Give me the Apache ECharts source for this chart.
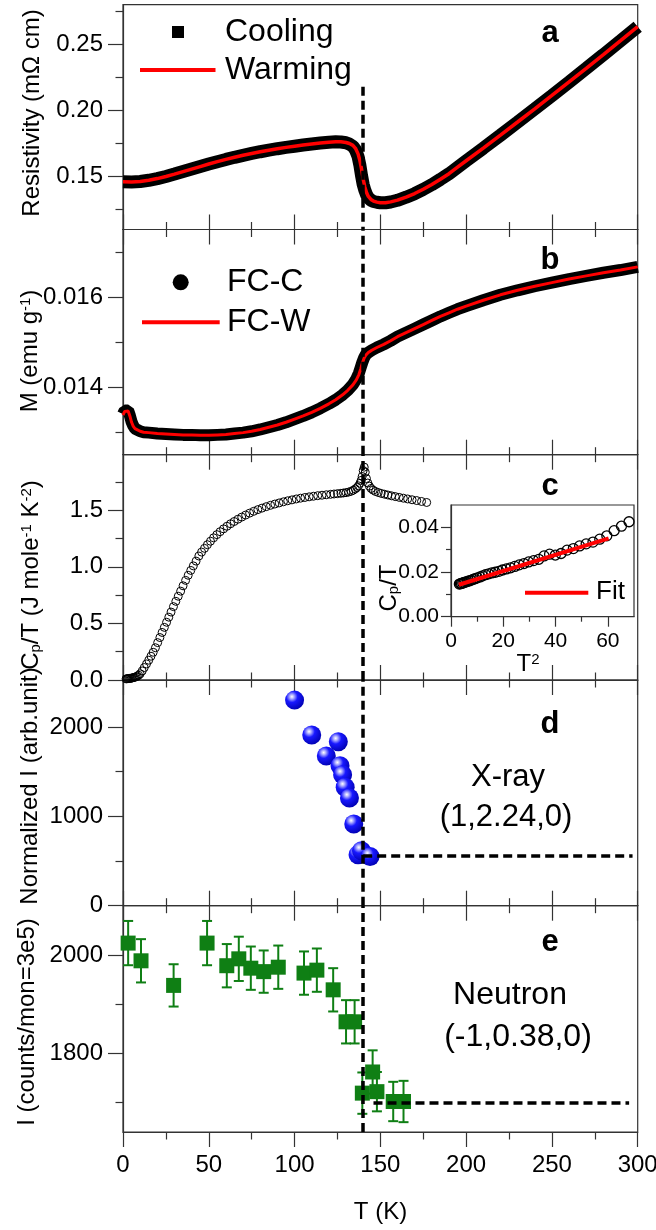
<!DOCTYPE html>
<html>
<head>
<meta charset="utf-8">
<script src="https://cdn.jsdelivr.net/npm/echarts@6/dist/echarts.min.js"></script>
<style>
  html, body { margin: 0; padding: 0; background: #fff; }
  #chart { width: 656px; height: 1230px; }
</style>
</head>
<body>
<div id="chart"></div>
<script>
// ---------------- data ----------------
// shared temperature axis (K)
const tempRange = [0, 300];
const TC = 140;                 // transition temperature, dashed guide
const TC_GUIDE_TOP = 0.218;     // where the guide starts in panel a (mOhm cm)
const XRAY_BACKGROUND = 560;    // high-T level, panel d
const NEUTRON_BACKGROUND = 1700;// high-T level, panel e

// (a) resistivity, mOhm cm
const rhoRange = [0.11, 0.28];
const rhoTicks = [0.15, 0.20, 0.25];
const rhoMinorTicks = [0.125, 0.175, 0.225, 0.275];
const rhoT = [0,5,10,15,20,25,30,35,40,45,50,55,60,65,70,75,80,85,90,95,100,105,110,115,120,
  124,127,130,132,134,135.5,137,138,139,140,141,142,143,144.5,146,148,150,153,156,160,
  165,170,175,180,185,190,195,200,210,220,230,240,250,260,270,280,290,300];
const rhoWarming = [0.1462,0.1460,0.1463,0.1472,0.1485,0.1501,0.1519,0.1538,0.1557,0.1576,0.1595,0.1613,0.1630,0.1646,0.1661,0.1675,0.1688,0.1700,0.1711,0.1721,0.1730,0.1739,0.1747,0.1754,0.1760,
  0.1763,0.1763,0.1758,0.1750,0.1736,0.1714,0.1672,0.1626,0.1560,0.1480,0.1420,0.1378,0.1350,0.1327,0.1315,0.1307,0.1303,0.1303,0.1309,0.1322,
  0.1345,0.1372,0.1404,0.1440,0.1480,0.1522,0.1571,0.1620,0.1716,0.1814,0.1913,0.2013,0.2114,0.2216,0.2319,0.2423,0.2528,0.2634];
const rhoCooling = [0.1462,0.1460,0.1463,0.1472,0.1485,0.1501,0.1519,0.1538,0.1557,0.1576,0.1595,0.1613,0.1630,0.1646,0.1661,0.1675,0.1688,0.1700,0.1711,0.1721,0.1730,0.1739,0.1747,0.1754,0.1760,
  0.1763,0.1762,0.1756,0.1746,0.1729,0.1702,0.1652,0.1591,0.1510,0.1440,0.1395,0.1362,0.1340,0.1322,0.1312,0.1306,0.1302,0.1302,0.1308,0.1321,
  0.1344,0.1371,0.1403,0.1439,0.1479,0.1521,0.1570,0.1619,0.1715,0.1813,0.1912,0.2012,0.2113,0.2215,0.2318,0.2422,0.2527,0.2633];

// (b) magnetization, emu/g
const mRange = [0.0125, 0.0175];
const mTicks = [0.014, 0.016];
const mMinorTicks = [0.013, 0.015, 0.017];
const mT = [0,1,2,3,4,5,6,7,8,10,12,15,20,25,30,35,40,45,50,55,60,65,70,75,80,85,90,95,100,105,110,115,120,
  124,128,131,134,136,137.5,138.5,139.5,140.5,141.5,143,145,148,152,156,160,
  165,170,175,180,185,190,195,200,210,220,230,240,250,260,270,280,290,300];
const mWarming = [0.01338,0.01346,0.01350,0.01347,0.01336,0.01322,0.01313,0.01308,0.01305,0.01302,0.01300,0.01299,
  0.01297,0.01296,0.01295,0.01294,0.01294,0.01293,0.01293,0.01294,0.01295,0.01297,0.01299,0.01302,0.01306,0.01311,0.01316,0.01322,0.01329,0.01336,0.01344,0.01353,0.01363,
  0.01372,0.01383,0.01393,0.01405,0.01416,0.01428,0.01440,0.01453,0.01464,0.01471,0.01477,0.01482,0.01488,0.01495,0.01503,0.01512,
  0.01521,0.01530,0.01539,0.01548,0.01557,0.01565,0.01573,0.01580,0.01593,0.01605,0.01615,0.01624,0.01632,0.01640,0.01647,0.01654,0.01660,0.01667];
const mCooling = [0.01340,0.01348,0.01351,0.01348,0.01337,0.01323,0.01314,0.01308,0.01305,0.01302,0.01300,0.01299,
  0.01297,0.01296,0.01295,0.01294,0.01294,0.01293,0.01293,0.01294,0.01295,0.01297,0.01299,0.01302,0.01306,0.01311,0.01316,0.01322,0.01329,0.01336,0.01344,0.01353,0.01363,
  0.01372,0.01383,0.01393,0.01406,0.01418,0.01431,0.01443,0.01455,0.01465,0.01472,0.01477,0.01482,0.01488,0.01495,0.01503,0.01512,
  0.01521,0.01530,0.01539,0.01548,0.01557,0.01565,0.01573,0.01580,0.01593,0.01605,0.01615,0.01624,0.01632,0.01640,0.01647,0.01654,0.01660,0.01667];

// (c) specific heat Cp/T, J mole^-1 K^-2
const cpRange = [0, 1.99];
const cpTicks = [0.0, 0.5, 1.0, 1.5];
const cpMinorTicks = [0.25, 0.75, 1.25, 1.75];
const cpT = [1.8,2.3,2.8,3.3,3.8,4.3,4.8,5.3,5.8,6.4,7.0,7.6,8.3,9.1,10.0,11.2,12.4,13.7,15.0,16.3,17.6,18.9,
  20.2,21.5,22.8,24.1,25.4,26.7,28.0,29.4,30.8,32.2,33.6,35.0,36.5,38.0,39.5,41.0,42.6,44.2,45.8,47.5,49.2,
  51.0,52.8,54.7,56.6,58.6,60.6,62.7,64.8,67.0,69.2,71.5,73.8,76.2,78.6,81.0,83.5,86.0,88.5,91.0,93.5,96.0,98.5,
  101.0,103.5,106.0,108.5,111.0,113.5,116.0,118.5,121.0,123.0,125.0,127.0,128.5,130.0,131.5,133.0,134.2,135.4,
  136.4,137.3,138.1,138.8,139.4,140.0,140.6,141.2,141.9,142.7,143.6,144.6,145.8,147.2,148.8,150.5,152.4,154.4,
  156.5,158.7,161.0,163.4,165.9,168.5,171.2,174.0,177.0];
const cpOverT = [0.010,0.011,0.012,0.013,0.014,0.015,0.016,0.018,0.020,0.022,0.025,0.029,0.034,0.042,0.055,0.080,0.110,0.142,0.175,0.210,0.245,0.285,
  0.330,0.375,0.420,0.465,0.510,0.555,0.600,0.648,0.695,0.740,0.785,0.832,0.880,0.925,0.968,1.008,1.050,1.095,1.130,1.163,1.195,
  1.226,1.256,1.284,1.310,1.335,1.358,1.380,1.400,1.420,1.439,1.457,1.474,1.490,1.505,1.518,1.531,1.543,1.554,1.564,1.574,1.583,1.591,
  1.599,1.606,1.612,1.618,1.623,1.628,1.632,1.636,1.640,1.643,1.646,1.649,1.652,1.655,1.660,1.667,1.676,1.688,
  1.700,1.715,1.737,1.763,1.798,1.850,1.880,1.835,1.780,1.740,1.712,1.692,1.677,1.665,1.656,1.648,1.641,1.634,
  1.627,1.620,1.613,1.606,1.599,1.592,1.585,1.577,1.568];

// (c, inset) low-temperature Cp/T against T^2
const insetXTicks = [0, 20, 40, 60];
const insetXMinorTicks = [10, 30, 50];
const insetYTicks = [0.00, 0.02, 0.04];
const insetYMinorTicks = [0.01, 0.03];
const lowT2 = [3.2,3.6,4.0,4.5,5.0,5.6,6.2,6.9,7.6,8.4,9.2,10.1,11.1,12.1,13.2,14.4,15.6,16.9,18.3,19.7,21.2,22.8,
  24.4,26.1,27.9,29.7,31.6,33.6,35.6,37.7,39.9,42.1,44.4,46.8,49.2,51.7,54.3,56.9,59.6,62.4,65.2,68.1];
const lowCpOverT = [0.0146,0.0148,0.0149,0.0151,0.0153,0.0155,0.0158,0.0160,0.0163,0.0167,0.0170,0.0174,0.0178,0.0183,0.0188,0.0192,0.0196,0.0199,0.0203,0.0209,0.0214,0.0219,
  0.0225,0.0232,0.0238,0.0245,0.0251,0.0257,0.0272,0.0280,0.0276,0.0283,0.0298,0.0305,0.0317,0.0326,0.0334,0.0347,0.0362,0.0385,0.0405,0.0425];
const fitT2 = [3.0, 60.3];
const fitCpOverT = [0.0143, 0.0351];

// (d) X-ray intensity at (1,2.24,0)
const xrayRange = [0, 2525];
const xrayTicks = [0, 1000, 2000];
const xrayMinorTicks = [500, 1500];
const xrayT = [100, 110, 118.5, 125.5, 126.5, 128, 129.5, 132, 134.5, 137, 139, 144];
const xrayI = [2300, 1910, 1675, 1835, 1565, 1465, 1325, 1205, 915, 570, 615, 550];

// (e) neutron intensity at (-1,0.38,0)
const neutronRange = [1640, 2100];
const neutronTicks = [1800, 2000];
const neutronMinorTicks = [1700, 1900];
const neutronT = [3, 10.5, 29.5, 49, 60.5, 67.5, 74.5, 82, 90.5, 105.5, 113, 122.5, 130, 135, 139.5, 145.5, 148, 157.5, 163.5];
const neutronI = [2024, 1988, 1938, 2024, 1978, 1992, 1973, 1966, 1975, 1963, 1969, 1929, 1864, 1864, 1719, 1762, 1722, 1702, 1702];
const neutronErr = [45, 44, 43, 45, 44, 45, 44, 43, 44, 44, 44, 44, 44, 44, 42, 44, 40, 40, 42];

// ---------------- styling helpers ----------------
const FONT = '"Liberation Sans", Arial, Helvetica, sans-serif';
const AXIS_COLOR = '#333';
const RED = '#ff0000';
const GREEN = '#0f7f14';

const pairs = (xs, ys) => xs.map((x, i) => [x, ys[i]]);

const panelBoxes = [
  { left: 123, top: 4.7,   width: 514.7, height: 224.8 },
  { left: 123, top: 229.5, width: 514.7, height: 225.2 },
  { left: 123, top: 454.7, width: 514.7, height: 225.3 },
  { left: 123, top: 680,   width: 514.7, height: 225.7 },
  { left: 123, top: 905.7, width: 514.7, height: 226.3 },
  { left: 451, top: 505,   width: 183,   height: 111.7 }   // inset of panel c
];
const grids = panelBoxes.map((b, i) => Object.assign({
  show: true, borderColor: AXIS_COLOR, borderWidth: 1.2,
  backgroundColor: i === 5 ? '#fff' : 'transparent',
  containLabel: false, outerBoundsMode: 'none'
}, b));

const line = { color: AXIS_COLOR, width: 1.2 };

function tempAxis(gridIndex, position, withLabels) {
  return {
    type: 'value', gridIndex, position, min: tempRange[0], max: tempRange[1], interval: 50,
    axisLine: { show: true, onZero: false, lineStyle: line },
    axisTick: { show: true, inside: false, length: 15, lineStyle: line },
    minorTick: { show: true, splitNumber: 2, length: 7.5, lineStyle: line },
    axisLabel: { show: withLabels, color: '#000', fontSize: 24, fontFamily: FONT, margin: 21 },
    splitLine: { show: false }, minorSplitLine: { show: false }
  };
}

function valueAxis(gridIndex, range, ticks, fmt, opts) {
  const o = opts || {};
  return {
    type: 'value', gridIndex, position: o.position || 'left', min: range[0], max: range[1],
    axisLine: { show: true, onZero: false, lineStyle: line },
    axisTick: { show: true, inside: false, length: o.tick || 15, customValues: ticks, lineStyle: line },
    axisLabel: { show: o.labels !== false, customValues: ticks, formatter: fmt, color: '#000',
                 fontSize: o.fontSize || 24, fontFamily: FONT, margin: o.margin || 20 },
    splitLine: { show: false }
  };
}

function minorAxis(gridIndex, range, ticks, position, len) {
  return {
    type: 'value', gridIndex, position, min: range[0], max: range[1],
    axisLine: { show: false, onZero: false },
    axisTick: { show: true, inside: false, length: len, customValues: ticks, lineStyle: line },
    axisLabel: { show: false }, splitLine: { show: false }
  };
}

const guideStyle = { color: '#000', width: 3.5, type: [9, 5] };
function guide(data) {
  return { silent: true, symbol: ['none', 'none'], label: { show: false },
           lineStyle: guideStyle, data, animation: false };
}

const sphere = new echarts.graphic.RadialGradient(0.36, 0.32, 0.72, [
  { offset: 0, color: '#ffffff' },
  { offset: 0.14, color: '#b8b8ff' },
  { offset: 0.42, color: '#1818ff' },
  { offset: 1, color: '#0000b0' }
]);

// ---------------- axes ----------------
const xAxes = [
  tempAxis(0, 'bottom', false),   // 0  panel a
  tempAxis(1, 'top', false),      // 1
  tempAxis(1, 'bottom', false),   // 2  panel b
  tempAxis(2, 'top', false),      // 3
  tempAxis(2, 'bottom', false),   // 4  panel c
  tempAxis(3, 'top', false),      // 5
  tempAxis(3, 'bottom', false),   // 6  panel d
  tempAxis(4, 'top', false),      // 7
  tempAxis(4, 'bottom', true),    // 8  panel e
  valueAxis(5, [0, 70], insetXTicks, v => String(v),
      { position: 'bottom', tick: 10, fontSize: 21, margin: 14 }),   // 9 inset
  minorAxis(5, [0, 70], insetXMinorTicks, 'bottom', 5)             // 10
];

const yAxes = [
  valueAxis(0, rhoRange, rhoTicks, v => v.toFixed(2)),            // 0
  valueAxis(1, mRange, mTicks, v => v.toFixed(3)),                // 1
  valueAxis(2, cpRange, cpTicks, v => v.toFixed(1)),              // 2
  valueAxis(3, xrayRange, xrayTicks, v => String(v)),             // 3
  valueAxis(4, neutronRange, neutronTicks, v => String(v)),       // 4
  valueAxis(5, [0, 0.05], insetYTicks, v => v.toFixed(2), { tick: 10, fontSize: 21, margin: 12 }), // 5
  minorAxis(0, rhoRange, rhoMinorTicks, 'left', 7.5),
  minorAxis(1, mRange, mMinorTicks, 'left', 7.5),
  minorAxis(2, cpRange, cpMinorTicks, 'left', 7.5),
  minorAxis(3, xrayRange, xrayMinorTicks, 'left', 7.5),
  minorAxis(4, neutronRange, neutronMinorTicks, 'left', 7.5),
  minorAxis(5, [0, 0.05], insetYMinorTicks, 'left', 5)
];

// ---------------- series ----------------
const series = [
  // (a)
  { name: 'Cooling', type: 'line', xAxisIndex: 0, yAxisIndex: 0, data: pairs(rhoT, rhoCooling),
    symbol: 'none', lineStyle: { color: '#000', width: 13 }, z: 2 },
  { name: 'Warming', type: 'line', xAxisIndex: 0, yAxisIndex: 0, data: pairs(rhoT, rhoWarming),
    symbol: 'none', lineStyle: { color: RED, width: 3.5 }, z: 3,
    markLine: guide([[{ coord: [TC, TC_GUIDE_TOP] }, { coord: [TC, rhoRange[0]] }]]) },
  // (b)
  { name: 'FC-C', type: 'line', xAxisIndex: 2, yAxisIndex: 1, data: pairs(mT, mCooling),
    symbol: 'none', lineStyle: { color: '#000', width: 12 }, z: 2 },
  { name: 'FC-W', type: 'line', xAxisIndex: 2, yAxisIndex: 1, data: pairs(mT, mWarming),
    symbol: 'none', lineStyle: { color: RED, width: 3 }, z: 3,
    markLine: guide([{ xAxis: TC }]) },
  // (c)
  { name: 'Cp/T', type: 'scatter', xAxisIndex: 4, yAxisIndex: 2, data: pairs(cpT, cpOverT),
    symbol: 'circle', symbolSize: 8,
    itemStyle: { color: 'rgba(255,255,255,0)', borderColor: '#000', borderWidth: 1, opacity: 1 }, z: 3,
    markLine: guide([{ xAxis: TC }]) },
  // (c) inset
  { name: 'low-T', type: 'scatter', xAxisIndex: 9, yAxisIndex: 5, data: pairs(lowT2, lowCpOverT),
    symbol: 'circle', symbolSize: 10,
    itemStyle: { color: 'rgba(255,255,255,0)', borderColor: '#000', borderWidth: 1.3, opacity: 1 }, z: 3 },
  { name: 'Fit', type: 'line', xAxisIndex: 9, yAxisIndex: 5, data: pairs(fitT2, fitCpOverT),
    symbol: 'none', lineStyle: { color: RED, width: 4 }, z: 4 },
  // (d)
  { name: 'X-ray', type: 'scatter', xAxisIndex: 6, yAxisIndex: 3, data: pairs(xrayT, xrayI),
    symbol: 'circle', symbolSize: 19, itemStyle: { color: sphere, opacity: 1 }, z: 4,
    markLine: guide([{ xAxis: TC }, [{ coord: [TC, XRAY_BACKGROUND] }, { coord: [297, XRAY_BACKGROUND] }]]) },
  // (e) error bars
  { name: 'Neutron error', type: 'custom', xAxisIndex: 8, yAxisIndex: 4,
    data: neutronT.map((t, i) => [t, neutronI[i] - neutronErr[i], neutronI[i] + neutronErr[i]]),
    encode: { x: 0, y: [1, 2] }, z: 3,
    renderItem: (params, api) => {
      const t = api.value(0);
      const lo = api.coord([t, api.value(1)]);
      const hi = api.coord([t, api.value(2)]);
      const cap = 5;
      const st = { stroke: GREEN, lineWidth: 2 };
      return { type: 'group', children: [
        { type: 'line', shape: { x1: lo[0], y1: lo[1], x2: hi[0], y2: hi[1] }, style: st },
        { type: 'line', shape: { x1: lo[0] - cap, y1: lo[1], x2: lo[0] + cap, y2: lo[1] }, style: st },
        { type: 'line', shape: { x1: hi[0] - cap, y1: hi[1], x2: hi[0] + cap, y2: hi[1] }, style: st }
      ]};
    } },
  { name: 'Neutron', type: 'scatter', xAxisIndex: 8, yAxisIndex: 4, data: pairs(neutronT, neutronI),
    symbol: 'rect', symbolSize: 15, itemStyle: { color: GREEN, opacity: 1 }, z: 4,
    markLine: guide([{ xAxis: TC }, [{ coord: [146, NEUTRON_BACKGROUND] }, { coord: [295, NEUTRON_BACKGROUND] }]]) }
];

// ---------------- text and legend keys ----------------
const SUP = { fontSize: 15, fontFamily: FONT, fill: '#000', verticalAlign: 'top' };
const SUB = { fontSize: 15, fontFamily: FONT, fill: '#000', verticalAlign: 'bottom' };

function label(x, y, text, size, o) {
  o = o || {};
  const align = o.align || 'center';
  return {
    type: 'text', x, y, rotation: o.rot || 0, z: 100, silent: true,
    style: {
      text, fill: '#000', fontSize: size, fontFamily: FONT, fontWeight: o.bold ? 'bold' : 'normal',
      align, verticalAlign: 'middle', textAlign: align, textVerticalAlign: 'middle',
      rich: { sup: SUP, sub: SUB }
    }
  };
}
const UP = Math.PI / 2;

const graphics = [
  // axis titles
  label(32, 113, 'Resistivity (mΩ cm)', 24, { rot: UP }),
  label(30, 351, 'M (emu g{sup|-1})', 24, { rot: UP }),
  label(31, 575, 'C{sub|p}/T (J mole{sup|-1} K{sup|-2})', 24, { rot: UP }),
  label(30, 786, 'Normalized I (arb.unit)', 24, { rot: UP }),
  label(27, 1022, 'I (counts/mon=3e5)', 24, { rot: UP }),
  label(380.5, 1212, 'T (K)', 24),
  label(389, 588, 'C{sub|p}/T', 24, { rot: UP }),
  label(528, 664, 'T{sup|2}', 24),
  // panel letters
  label(550, 33, 'a', 31, { bold: true }),
  label(550, 260, 'b', 31, { bold: true }),
  label(550, 486, 'c', 31, { bold: true }),
  label(550, 724, 'd', 31, { bold: true }),
  label(550, 942, 'e', 31, { bold: true }),
  // annotations
  label(508, 777, 'X-ray', 31),
  label(506, 817, '(1,2.24,0)', 31),
  label(510, 995, 'Neutron', 32),
  label(518, 1037, '(-1,0.38,0)', 32),
  // legend, panel a
  { type: 'rect', z: 100, shape: { x: 172, y: 26, width: 12, height: 12 }, style: { fill: '#000' } },
  label(225, 32, 'Cooling', 32, { align: 'left' }),
  { type: 'line', z: 100, shape: { x1: 140, y1: 70, x2: 215.5, y2: 70 }, style: { stroke: RED, lineWidth: 4 } },
  label(225, 70, 'Warming', 32, { align: 'left' }),
  // legend, panel b
  { type: 'circle', z: 100, shape: { cx: 180.7, cy: 282.3, r: 8 }, style: { fill: '#000' } },
  label(227, 282, 'FC-C', 32, { align: 'left' }),
  { type: 'line', z: 100, shape: { x1: 142, y1: 322.3, x2: 219.7, y2: 322.3 }, style: { stroke: RED, lineWidth: 4 } },
  label(227, 322, 'FC-W', 32, { align: 'left' }),
  // legend, inset
  { type: 'line', z: 100, shape: { x1: 525, y1: 592.7, x2: 588.3, y2: 592.7 }, style: { stroke: RED, lineWidth: 4 } },
  label(596, 592, 'Fit', 26, { align: 'left' })
];

const chart = echarts.init(document.getElementById('chart'), null, { renderer: 'canvas' });
chart.setOption({
  animation: false,
  backgroundColor: '#fff',
  grid: grids,
  xAxis: xAxes,
  yAxis: yAxes,
  series,
  graphic: graphics
});
</script>
</body>
</html>
